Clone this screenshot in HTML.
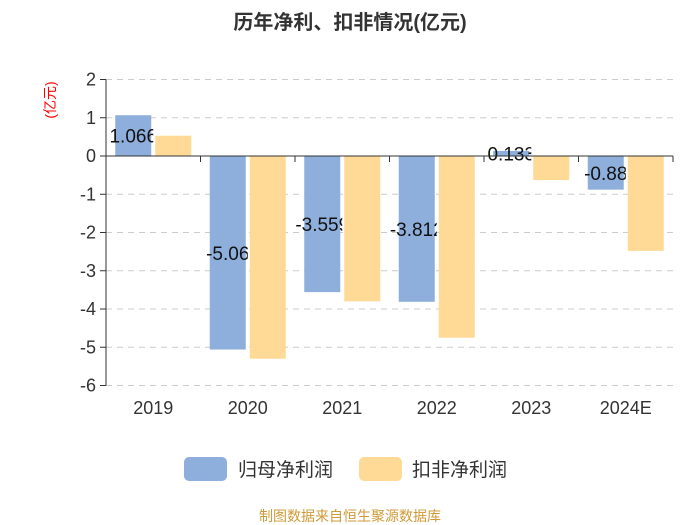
<!DOCTYPE html>
<html><head><meta charset="utf-8"><style>
body{margin:0;background:#fff}
svg{display:block;font-family:"Liberation Sans","Noto Sans CJK SC",sans-serif}
</style></head><body>
<svg id="chart" width="700" height="525">
<text x="350" y="29" text-anchor="middle" font-size="20" font-weight="bold" fill="#333">历年净利、扣非情况(亿元)</text>
<text transform="translate(55,100) rotate(-90)" text-anchor="middle" font-size="14" fill="#ff0000">(亿元)</text>
<g id="grid"></g><g id="bars"></g><g id="axes"></g>
<rect x="184" y="457" width="43" height="24" rx="5" fill="#8eaedc"/>
<text x="238" y="476" font-size="19" fill="#333">归母净利润</text>
<rect x="359" y="457" width="43" height="24" rx="5" fill="#ffd996"/>
<text x="412" y="476" font-size="19" fill="#333">扣非净利润</text>
<text x="350" y="521" text-anchor="middle" font-size="14" fill="#d09a38">制图数据来自恒生聚源数据库</text>
</svg>
<script>
const categories=["2019","2020","2021","2022","2023","2024E"];
const netProfit=[1.066,-5.06,-3.559,-3.812,0.133,-0.88];
const netProfitLabels=["1.066","-5.06","-3.559","-3.812","0.133","-0.88"];
const deductedProfit=[0.53,-5.3,-3.8,-4.75,-0.63,-2.48];
const yTicks=[2,1,0,-1,-2,-3,-4,-5,-6];
const NS="http://www.w3.org/2000/svg";
const X0=106,X1=673,Y0=156,U=38.25;
const cw=(X1-X0)/categories.length;
const y=v=>Y0-v*U;
const mk=(t,a,p)=>{const e=document.createElementNS(NS,t);for(const k in a)e.setAttribute(k,a[k]);p.appendChild(e);return e;};
const grid=document.getElementById('grid'),bars=document.getElementById('bars'),axes=document.getElementById('axes');
const defs=mk('defs',{},document.getElementById('chart'));
yTicks.forEach(v=>{
 if(v!==0){const g=mk('line',{x1:X0,x2:X1,y1:y(v),y2:y(v),stroke:'#ccc','stroke-dasharray':'6,5'},grid);
 
 }
 const t=mk('line',{x1:X0-6,x2:X0,y1:y(v),y2:y(v),stroke:'#333'},axes);
 
 
 const l=mk('text',{x:X0-10,y:y(v)+6,'text-anchor':'end','font-size':18,fill:'#333'},axes);l.textContent=v;
 
 
});
const bw=36;
categories.forEach((c,i)=>{
 const cx=X0+cw*i+cw/2;
 const bx=cx-bw-2, yx=cx+2;
 const v=netProfit[i];
 const b=mk('rect',{x:bx,y:Math.min(y(v),Y0),width:bw,height:Math.abs(y(v)-Y0),fill:'#8eaedc'},bars);
 
 
 const w=deductedProfit[i];
 const d=mk('rect',{x:yx,y:Math.min(y(w),Y0),width:bw,height:Math.abs(y(w)-Y0),fill:'#ffd996'},bars);
 
 
 const cp=mk('clipPath',{id:'cp'+i},defs);mk('rect',{x:0,y:0,width:bx+bw+2,height:525},cp);
 const lt=mk('text',{x:bx+bw/2,y:(y(v)+Y0)/2+7,'text-anchor':'middle','font-size':19,fill:'#111','clip-path':'url(#cp'+i+')'},bars);
 lt.textContent=netProfitLabels[i];
 
 
 const tk=mk('line',{x1:X0+cw*(i+1),x2:X0+cw*(i+1),y1:Y0,y2:Y0+6,stroke:'#333'},axes);
 
 
 const xl=mk('text',{x:cx,y:414,'text-anchor':'middle','font-size':18,fill:'#333'},axes);xl.textContent=c;
 
 
});
const ya=mk('line',{x1:X0,x2:X0,y1:y(2),y2:y(-6),stroke:'#333'},axes);


const xa=mk('line',{x1:X0,x2:X1,y1:Y0,y2:Y0,stroke:'#333'},axes);


</script>
</body></html>
